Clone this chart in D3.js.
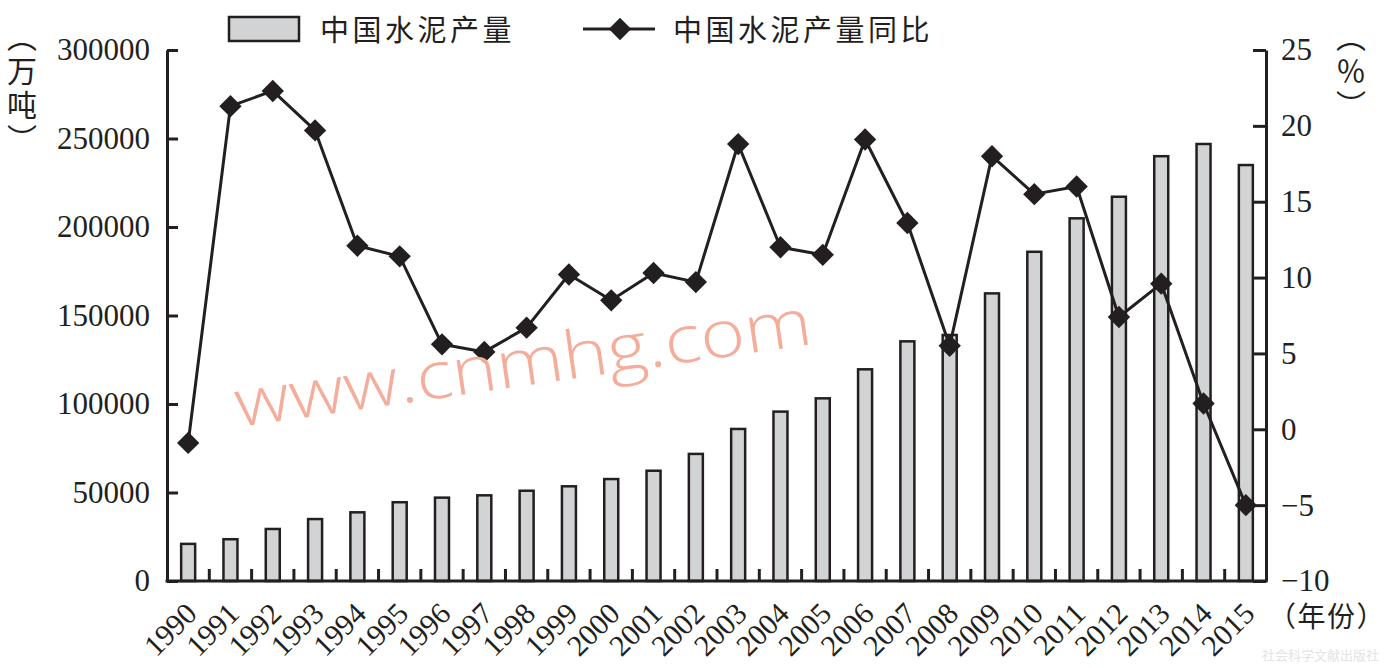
<!DOCTYPE html>
<html>
<head>
<meta charset="utf-8">
<script src="https://cdn.jsdelivr.net/npm/d3@7"></script>
<style>
  body { margin: 0; background: #fff; }
  svg { display: block; }
  .vert { writing-mode: vertical-rl; text-orientation: mixed; }
</style>
</head>
<body>
<div id="chart"></div>
<script>
const years = d3.range(1990, 2016).map(String);
// 中国水泥产量（万吨）
const output = [20971, 23600, 29400, 35000, 38800, 44500, 47100, 48400, 51000, 53500,
  57600, 62300, 71800, 85900, 95700, 103200, 119600, 135400, 139000, 162500,
  186000, 204900, 217100, 240000, 246900, 235000];
// 同比（%）
const growth = [-0.9, 21.3, 22.3, 19.7, 12.1, 11.4, 5.6, 5.1, 6.7, 10.2,
  8.5, 10.3, 9.7, 18.8, 12.0, 11.5, 19.1, 13.6, 5.5, 18.0,
  15.5, 16.0, 7.4, 9.6, 1.7, -5.0];
const leftTicks = [0, 50000, 100000, 150000, 200000, 250000, 300000];
const rightTicks = [-10, -5, 0, 5, 10, 15, 20, 25];

const width = 1386, height = 668;
const m = { left: 167, right: 1266, top: 50, bottom: 581 };
const ink = '#231f20';
const serif = '"Liberation Serif", "Times New Roman", serif';
const cjk = '"Noto Sans CJK SC", sans-serif';

const svg = d3.select('#chart').append('svg')
  .attr('width', width).attr('height', height);

const x = d3.scaleBand().domain(years).range([m.left, m.right + 1]).padding(0);
const yL = d3.scaleLinear().domain([0, 300000]).range([m.bottom, m.top]);
const yR = d3.scaleLinear().domain([-10, 25]).range([m.bottom, m.top]);
const barW = 14;

// bars
svg.append('g').selectAll('rect')
  .data(output)
  .enter().append('rect')
  .attr('x', (d, i) => x(years[i]) + x.bandwidth() / 2 - barW / 2)
  .attr('y', d => yL(d))
  .attr('width', barW)
  .attr('height', d => yL(0) - yL(d))
  .attr('fill', '#d1d3d4')
  .attr('stroke', ink)
  .attr('stroke-width', 2.5);

// x ticks between bars
svg.append('g').selectAll('line')
  .data(years.slice(1))
  .enter().append('line')
  .attr('x1', d => x(d)).attr('x2', d => x(d))
  .attr('y1', m.bottom).attr('y2', m.bottom - 12)
  .attr('stroke', ink).attr('stroke-width', 3);

// axes
const axL = svg.append('g')
  .attr('transform', `translate(${m.left},0)`)
  .call(d3.axisLeft(yL).tickValues(leftTicks).tickSizeInner(-11).tickSizeOuter(0).tickPadding(17).tickFormat(d3.format('d')));
const axR = svg.append('g')
  .attr('transform', `translate(${m.right},0)`)
  .call(d3.axisRight(yR).tickValues(rightTicks).tickSizeInner(-13).tickSizeOuter(0).tickPadding(15)
    .tickFormat(d => d < 0 ? '\u2212' + Math.abs(d) : d));
[axL, axR].forEach(a => {
  a.selectAll('path, line').attr('stroke', ink).attr('stroke-width', 3);
  a.selectAll('text').attr('font-family', serif).attr('font-size', 31).attr('fill', ink);
});
svg.append('line')
  .attr('x1', m.left - 1.5).attr('x2', m.right + 1.5)
  .attr('y1', m.bottom).attr('y2', m.bottom)
  .attr('stroke', ink).attr('stroke-width', 3);

// year labels
svg.append('g').selectAll('text')
  .data(years)
  .enter().append('text')
  .attr('transform', d => `translate(${x(d) + x.bandwidth() / 2 + 3},608) rotate(-45)`)
  .attr('text-anchor', 'end')
  .attr('dy', '0.35em')
  .attr('font-family', serif)
  .attr('font-size', 30)
  .attr('fill', ink)
  .text(d => d);

// growth line
const line = d3.line()
  .x((d, i) => x(years[i]) + x.bandwidth() / 2)
  .y(d => yR(d));
svg.append('path')
  .datum(growth)
  .attr('d', line)
  .attr('fill', 'none')
  .attr('stroke', ink)
  .attr('stroke-width', 3)
  .attr('stroke-linejoin', 'round');

const diamond = d3.symbol().type(d3.symbolSquare).size(250);
svg.append('g').selectAll('path')
  .data(growth)
  .enter().append('path')
  .attr('d', diamond)
  .attr('transform', (d, i) => `translate(${x(years[i]) + x.bandwidth() / 2},${yR(d)}) rotate(45)`)
  .attr('fill', ink);

// legend
const lg = svg.append('g');
lg.append('rect').attr('x', 229).attr('y', 17).attr('width', 70).attr('height', 24)
  .attr('fill', '#d1d3d4').attr('stroke', ink).attr('stroke-width', 2.5);
lg.append('text').attr('x', 320).attr('y', 41).text('中国水泥产量');
lg.append('line').attr('x1', 583).attr('x2', 655).attr('y1', 29).attr('y2', 29)
  .attr('stroke', ink).attr('stroke-width', 3);
lg.append('path').attr('d', diamond).attr('transform', 'translate(620,29) rotate(45)').attr('fill', ink);
lg.append('text').attr('x', 673).attr('y', 41).text('中国水泥产量同比');
lg.selectAll('text').attr('font-family', cjk).attr('font-size', 29)
  .attr('letter-spacing', 3.5).attr('fill', ink);

// vertical unit labels
svg.append('text').attr('class', 'vert')
  .attr('x', 22).attr('y', 22)
  .attr('font-family', cjk).attr('font-size', 30).attr('letter-spacing', 4).attr('fill', ink)
  .text('（万吨）');
svg.append('text').attr('class', 'vert')
  .attr('x', 1351).attr('y', 22)
  .attr('font-family', cjk).attr('font-size', 30).attr('letter-spacing', 4).attr('fill', ink)
  .text('（％）');

svg.append('text').attr('x', 1268).attr('y', 627)
  .attr('font-family', cjk).attr('font-size', 28).attr('fill', ink)
  .attr('letter-spacing', 1.5)
  .text('（年份）');

// watermarks
svg.append('text')
  .attr('transform', 'translate(238,427) rotate(-8.2)')
  .attr('font-family', '"Open Sans", sans-serif').attr('font-weight', 300)
  .attr('font-size', 66).attr('fill', '#f5ad9b')
  .attr('textLength', 582).attr('lengthAdjust', 'spacingAndGlyphs')
  .text('www.cnmhg.com');
svg.append('text').attr('x', 1262).attr('y', 660)
  .attr('font-family', cjk).attr('font-size', 13).attr('fill', '#e4e4e4')
  .text('社会科学文献出版社');
</script>
</body>
</html>
